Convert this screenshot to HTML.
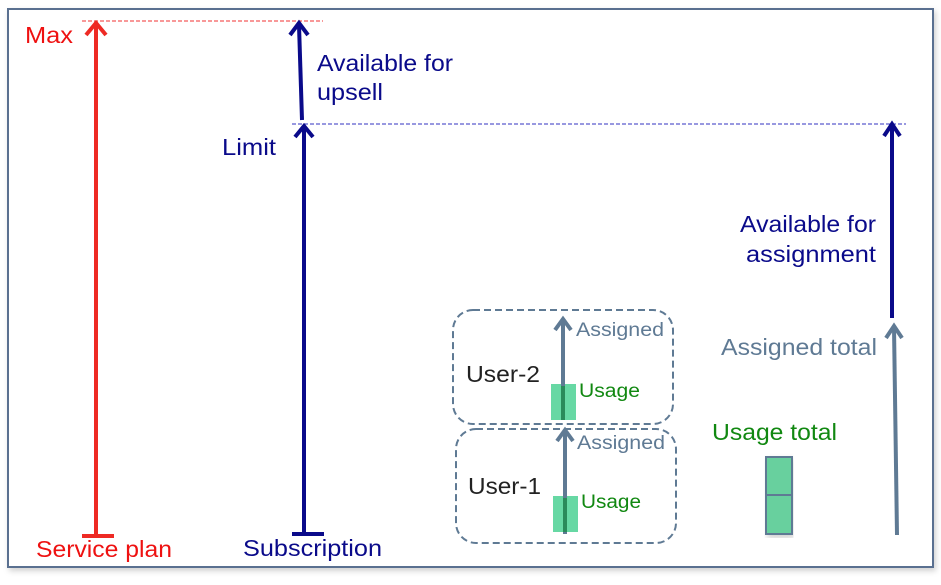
<!DOCTYPE html>
<html><head><style>
body{margin:0;background:#fff;}
svg text{font-family:"Liberation Sans",Arial,sans-serif;}
</style></head><body>
<svg width="941" height="580" viewBox="0 0 941 580" xmlns="http://www.w3.org/2000/svg">
<defs>
<filter id="sh" x="-5%" y="-5%" width="110%" height="110%"><feDropShadow dx="2" dy="3" stdDeviation="3" flood-color="#000" flood-opacity="0.18"/></filter>
</defs>
<rect x="8" y="9" width="925" height="558" fill="#fff" stroke="#5a7090" stroke-width="2" filter="url(#sh)"/>
<line x1="82" y1="21" x2="323" y2="21" stroke="#f03030" stroke-width="1" stroke-dasharray="4,2"/>
<line x1="292" y1="124" x2="906" y2="124" stroke="#3030c0" stroke-width="1" stroke-dasharray="4,2"/>
<g stroke="#ee2a24" stroke-width="4" fill="none">
<line x1="96" y1="537" x2="96" y2="24"/>
<polyline points="86,35 96,23 106,35"/>
<line x1="82" y1="536" x2="114" y2="536"/>
</g>
<text x="25" y="43" font-size="23" fill="#ee1111" textLength="48" lengthAdjust="spacingAndGlyphs">Max</text>
<text x="36" y="557" font-size="23" fill="#ee1111" textLength="136" lengthAdjust="spacingAndGlyphs">Service plan</text>
<g stroke="#0a0a8a" stroke-width="4" fill="none">
<line x1="304" y1="534" x2="304" y2="128"/>
<polyline points="295,137 304,126 313,137"/>
<line x1="292" y1="534" x2="324" y2="534"/>
<line x1="302" y1="120" x2="299" y2="25"/>
<polyline points="290,35 299,23 308,35"/>
</g>
<text x="222" y="155" font-size="23" fill="#0a0a8a" textLength="54" lengthAdjust="spacingAndGlyphs">Limit</text>
<text x="317" y="71" font-size="23" fill="#0a0a8a" textLength="136" lengthAdjust="spacingAndGlyphs">Available for</text>
<text x="317" y="100" font-size="23" fill="#0a0a8a" textLength="66" lengthAdjust="spacingAndGlyphs">upsell</text>
<text x="243" y="556" font-size="23" fill="#0a0a8a" textLength="139" lengthAdjust="spacingAndGlyphs">Subscription</text>
<g stroke="#5f7a94" stroke-width="4" fill="none">
<line x1="897" y1="535" x2="894" y2="327"/>
<polyline points="886,338 894,326 902,338"/>
</g>
<g stroke="#0a0a8a" stroke-width="4" fill="none">
<line x1="892" y1="318" x2="892" y2="126"/>
<polyline points="884,136 892,124 900,136"/>
</g>
<text x="740" y="232" font-size="23" fill="#0a0a8a" textLength="136" lengthAdjust="spacingAndGlyphs">Available for</text>
<text x="746" y="262" font-size="23" fill="#0a0a8a" textLength="130" lengthAdjust="spacingAndGlyphs">assignment</text>
<text x="721" y="355" font-size="23" fill="#5f7a94" textLength="156" lengthAdjust="spacingAndGlyphs">Assigned total</text>
<text x="712" y="440" font-size="23" fill="#118811" textLength="125" lengthAdjust="spacingAndGlyphs">Usage total</text>
<rect x="766" y="457" width="26" height="77" fill="#67d09e" stroke="#5f7a94" stroke-width="2" filter="url(#sh)"/>
<line x1="766" y1="495" x2="792" y2="495" stroke="#5f7a94" stroke-width="2"/>
<rect x="453" y="310" width="220" height="114" rx="20" fill="none" stroke="#5f7a94" stroke-width="2" stroke-dasharray="7,4"/>
<rect x="456" y="429" width="220" height="114" rx="20" fill="none" stroke="#5f7a94" stroke-width="2" stroke-dasharray="7,4"/>
<rect x="551" y="384" width="25" height="36" fill="#67d8a4"/>
<rect x="553" y="496" width="25" height="36" fill="#67d8a4"/>
<g stroke="#5f7a94" stroke-width="4" fill="none">
<line x1="563" y1="420" x2="563" y2="320"/>
<polyline points="555,330 563,319 571,330"/>
<line x1="565" y1="534" x2="565" y2="431"/>
<polyline points="557,441 565,430 573,441"/>
</g>
<line x1="563" y1="386" x2="563" y2="420" stroke="#2a8a5a" stroke-width="4"/>
<line x1="565" y1="498" x2="565" y2="532" stroke="#2a8a5a" stroke-width="4"/>
<text x="576" y="336" font-size="19" fill="#5f7a94" textLength="88" lengthAdjust="spacingAndGlyphs">Assigned</text>
<text x="577" y="449" font-size="19" fill="#5f7a94" textLength="88" lengthAdjust="spacingAndGlyphs">Assigned</text>
<text x="579" y="397" font-size="19" fill="#118811" textLength="61" lengthAdjust="spacingAndGlyphs">Usage</text>
<text x="581" y="508" font-size="19" fill="#118811" textLength="60" lengthAdjust="spacingAndGlyphs">Usage</text>
<text x="466" y="382" font-size="23" fill="#222" textLength="74" lengthAdjust="spacingAndGlyphs">User-2</text>
<text x="468" y="494" font-size="23" fill="#222" textLength="73" lengthAdjust="spacingAndGlyphs">User-1</text>
</svg>
</body></html>
